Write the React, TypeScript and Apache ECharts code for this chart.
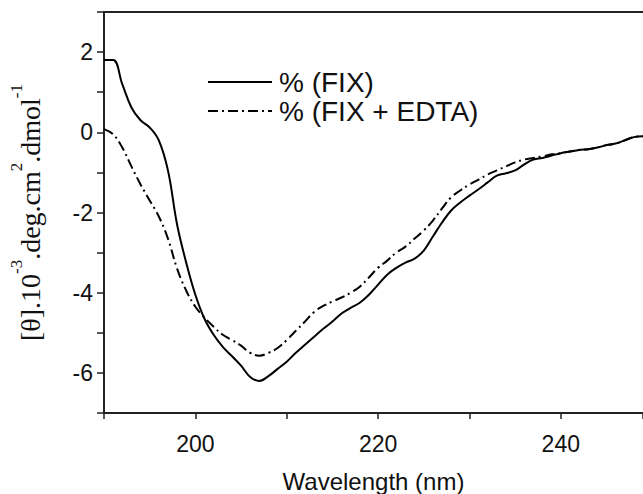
import React, { useEffect, useRef } from "react";
import * as echarts from "echarts";

const wavelengths = [
  190, 191, 192, 193, 194, 195, 196, 197, 198, 199,
  200, 201, 202, 203, 204, 205, 206, 207, 208, 209,
  210, 211, 212, 213, 214, 215, 216, 217, 218, 219,
  220, 221, 222, 223, 224, 225, 226, 227, 228, 229,
  230, 231, 232, 233, 234, 235, 236, 237, 238, 239,
  240, 241, 242, 243, 244, 245, 246, 247, 248, 249,
];

const fixValues = [
  1.8, 1.8, 1.2, 0.62, 0.3, 0.12, -0.2, -0.95, -2.3, -3.25,
  -4.05, -4.65, -5.05, -5.35, -5.58, -5.82, -6.1, -6.2, -6.08, -5.9,
  -5.72, -5.5, -5.3, -5.1, -4.9, -4.72, -4.52, -4.38, -4.25, -4.05,
  -3.8, -3.55, -3.38, -3.25, -3.15, -2.95, -2.6, -2.25, -1.95, -1.75,
  -1.58, -1.42, -1.25, -1.08, -1.02, -0.95, -0.8, -0.68, -0.64, -0.58,
  -0.52, -0.48, -0.44, -0.42, -0.38, -0.32, -0.28, -0.2, -0.12, -0.1,
];

const fixEdtaValues = [
  0.08, -0.05, -0.38, -0.85, -1.3, -1.7, -2.1, -2.65, -3.4, -3.95,
  -4.35, -4.62, -4.85, -5.05, -5.18, -5.32, -5.5, -5.57, -5.5, -5.38,
  -5.18, -4.95, -4.72, -4.48, -4.33, -4.22, -4.12, -4.0, -3.85, -3.62,
  -3.38, -3.2, -3.0, -2.85, -2.65, -2.45, -2.2, -1.9, -1.62, -1.45,
  -1.3, -1.18, -1.05, -0.95, -0.85, -0.75, -0.68, -0.64, -0.6, -0.55,
  -0.52, -0.48, -0.44, -0.42, -0.38, -0.32, -0.28, -0.2, -0.12, -0.1,
];

const seriesNames = ["% (FIX)", "% (FIX + EDTA)"];
const xTickLabels = [200, 220, 240];
const yTickLabels = [2, 0, -2, -4, -6];

const SANS = "'Liberation Sans', Arial, Helvetica, sans-serif";
const SERIF = "'Liberation Serif', 'Times New Roman', Times, serif";
const AXIS_COLOR = "#222";

export default function App() {
  const ref = useRef<HTMLDivElement>(null);

  useEffect(() => {
    if (!ref.current) return;
    const chart = echarts.init(ref.current, undefined, { renderer: "svg" });
    const toPairs = (vals: number[]) => wavelengths.map((w, i) => [w, vals[i]]);

    chart.setOption({
      animation: false,
      backgroundColor: "#ffffff",
      grid: {
        left: 104,
        right: 0,
        top: 12,
        bottom: 81,
        containLabel: false,
        outerBoundsMode: "none",
      },
      legend: {
        orient: "vertical",
        left: 202,
        top: 63,
        itemWidth: 64,
        itemHeight: 14,
        itemGap: 1,
        data: seriesNames,
        itemStyle: { opacity: 0, color: "transparent", borderWidth: 0 },
        textStyle: {
          fontFamily: SANS,
          fontSize: 28,
          lineHeight: 28,
          color: "#111",
          padding: [0, 0, 0, 2],
        },
      },
      xAxis: [
        {
          type: "value",
          min: 190,
          max: 249,
          interval: 10,
          position: "bottom",
          name: "Wavelength (nm)",
          nameLocation: "middle",
          nameGap: 56,
          nameTextStyle: { fontFamily: SANS, fontSize: 24, color: "#111" },
          axisLine: { show: true, onZero: false, lineStyle: { color: AXIS_COLOR, width: 2 } },
          axisTick: { show: true, inside: false, length: 6, lineStyle: { color: AXIS_COLOR, width: 1.5 } },
          axisLabel: {
            fontFamily: SANS,
            fontSize: 23,
            color: "#111",
            margin: 19,
            formatter: (v: number) => (xTickLabels.includes(v) ? String(v) : ""),
          },
          splitLine: { show: false },
        },
        {
          type: "value",
          min: 190,
          max: 249,
          position: "top",
          axisLine: { show: true, onZero: false, lineStyle: { color: AXIS_COLOR, width: 2 } },
          axisTick: { show: false },
          axisLabel: { show: false },
          splitLine: { show: false },
        },
      ],
      yAxis: {
        type: "value",
        min: -7,
        max: 3,
        interval: 1,
        name: "{a|[θ].10}{s|-3}{a|.deg.cm}{s|2}{a|.dmol}{s|-1}",
        nameLocation: "middle",
        nameRotate: 90,
        nameGap: 60,
        nameTextStyle: {
          fontFamily: SERIF,
          color: "#111",
          rich: {
            a: { fontFamily: SERIF, fontSize: 28, lineHeight: 36, color: "#111", verticalAlign: "bottom" },
            s: { fontFamily: SERIF, fontSize: 17, lineHeight: 36, color: "#111", verticalAlign: "top" },
          },
        },
        axisLine: { show: true, onZero: false, lineStyle: { color: AXIS_COLOR, width: 2 } },
        axisTick: { show: true, inside: false, length: 7, lineStyle: { color: AXIS_COLOR, width: 1.5 } },
        axisLabel: {
          fontFamily: SANS,
          fontSize: 23,
          color: "#111",
          margin: 11,
          formatter: (v: number) => (yTickLabels.includes(v) ? String(v) : ""),
        },
        splitLine: { show: false },
      },
      series: [
        {
          name: seriesNames[0],
          type: "line",
          data: toPairs(fixValues),
          smooth: 0.4,
          showSymbol: false,
          symbol: "none",
          clip: true,
          lineStyle: { color: "#000", width: 2, type: "solid" },
          itemStyle: { color: "#000" },
          z: 3,
        },
        {
          name: seriesNames[1],
          type: "line",
          data: toPairs(fixEdtaValues),
          smooth: 0.4,
          showSymbol: false,
          symbol: "none",
          clip: true,
          lineStyle: { color: "#000", width: 2, type: [10, 4, 2, 4] },
          itemStyle: { color: "#000" },
          z: 2,
        },
      ],
    });

    return () => chart.dispose();
  }, []);

  return (
    <div
      ref={ref}
      style={{ width: 643, height: 494, position: "absolute", left: 0, top: 0 }}
    />
  );
}
